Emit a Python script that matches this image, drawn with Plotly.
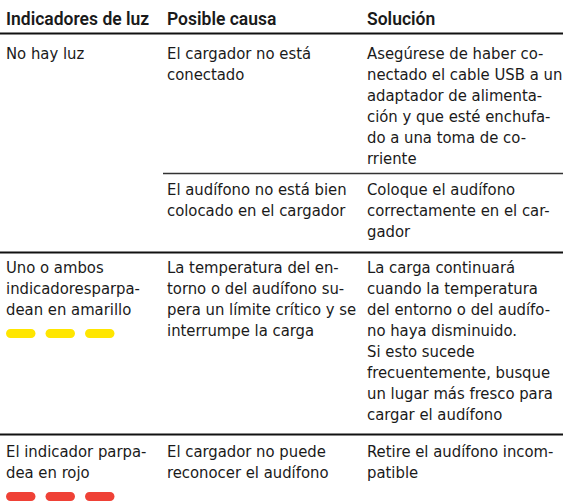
import plotly.graph_objects as go

# ---------------- data ----------------
headers = ["Indicadores de luz", "Posible causa", "Solución"]

indicator_lines = [
    ["No hay luz"],
    ["Uno o ambos", "indicadoresparpa-", "dean en amarillo"],
    ["El indicador parpa-", "dea en rojo"],
]
indicator_colors = [None, "#FFE600", "#EF4136"]
indicator_counts = [0, 3, 3]

cause_lines = [
    [["El cargador no está", "conectado"],
     ["El audífono no está bien", "colocado en el cargador"]],
    [["La temperatura del en-", "torno o del audífono su-",
      "pera un límite crítico y se", "interrumpe la carga"]],
    [["El cargador no puede", "reconocer el audífono"]],
]
solution_lines = [
    [["Asegúrese de haber co-", "nectado el cable USB a un",
      "adaptador de alimenta-", "ción y que esté enchufa-",
      "do a una toma de co-", "rriente"],
     ["Coloque el audífono", "correctamente en el car-", "gador"]],
    [["La carga continuará", "cuando la temperatura",
      "del entorno o del audífo-", "no haya disminuido.",
      "Si esto sucede", "frecuentemente, busque",
      "un lugar más fresco para", "cargar el audífono"]],
    [["Retire el audífono incom-", "patible"]],
]

# ---------------- layout ----------------
W, H = 563, 504
FONT = "DejaVu Sans Condensed, DejaVu Sans, sans-serif"
HFONT = "Roboto, DejaVu Sans Condensed, sans-serif"
TXT = "#1a1a1a"
COL_X = [5, 166, 366]
LINE_H = 21
FS = 16.5

fig = go.Figure()
fig.add_trace(go.Scatter(x=[0, W], y=[0, H], mode="markers",
                         marker=dict(opacity=0), hoverinfo="skip", showlegend=False))

ann = []
shapes = []

def put(x, baseline, text, size=FS, family=FONT, weight="normal"):
    ann.append(dict(x=x, y=baseline + 0.28 * size, xref="x", yref="y",
                    text=text, showarrow=False, xanchor="left", yanchor="bottom",
                    font=dict(family=family, size=size, color=TXT, weight=weight),
                    borderpad=0))

# header
for cx, h in zip(COL_X, headers):
    put(cx, 25, h, size=17.5, family=HFONT, weight=600)

def hline(y, x0, x1, w, color="#111111"):
    shapes.append(dict(type="line", xref="x", yref="y", x0=x0, x1=x1, y0=y, y1=y,
                       line=dict(color=color, width=w)))

hline(33.5, 0, W, 2.2)

group_top_baseline = [59, 273, 457]
sub_top_baseline = {(0, 1): 195}
group_bottom_line = [252.5, 434.5]
pill_center = {1: 333.5, 2: 496.5}

def pill(x0, x1, yc, h, color):
    r = h / 2
    k = 0.5523 * r
    p = (f"M {x0+r},{yc-r} L {x1-r},{yc-r} "
         f"C {x1-r+k},{yc-r} {x1},{yc-k} {x1},{yc} "
         f"C {x1},{yc+k} {x1-r+k},{yc+r} {x1-r},{yc+r} "
         f"L {x0+r},{yc+r} "
         f"C {x0+r-k},{yc+r} {x0},{yc+k} {x0},{yc} "
         f"C {x0},{yc-k} {x0+r-k},{yc-r} {x0+r},{yc-r} Z")
    shapes.append(dict(type="path", xref="x", yref="y", path=p,
                       fillcolor=color, line=dict(width=0)))

for g, lines in enumerate(indicator_lines):
    b0 = group_top_baseline[g]
    for i, t in enumerate(lines):
        put(COL_X[0], b0 + i * LINE_H, t)
    if indicator_counts[g]:
        yc = pill_center[g]
        for j in range(indicator_counts[g]):
            x0 = 6 + j * 39.5
            pill(x0, x0 + 29.5, yc, 9, indicator_colors[g])
    for s, (cl, sl) in enumerate(zip(cause_lines[g], solution_lines[g])):
        b = sub_top_baseline.get((g, s), b0)
        for i, t in enumerate(cl):
            put(COL_X[1], b + i * LINE_H, t)
        for i, t in enumerate(sl):
            put(COL_X[2], b + i * LINE_H, t)

hline(173.5, 163, W, 1.4, "#333333")
for y in group_bottom_line:
    hline(y, 0, W, 2.2)

fig.update_layout(
    width=W, height=H, margin=dict(l=0, r=0, t=0, b=0),
    paper_bgcolor="white", plot_bgcolor="white",
    xaxis=dict(range=[0, W], visible=False, fixedrange=True),
    yaxis=dict(range=[H, 0], visible=False, fixedrange=True),
    annotations=ann, shapes=shapes, showlegend=False,
)
fig.write_html("out.html", config={"displayModeBar": False},
               post_script="document.body.style.margin='0';")
